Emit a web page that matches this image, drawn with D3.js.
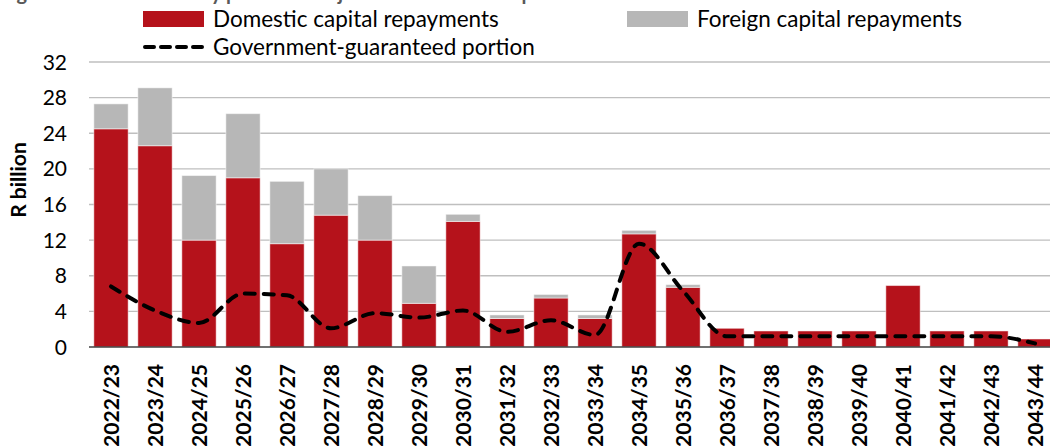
<!DOCTYPE html>
<html>
<head>
<meta charset="utf-8">
<script src="https://cdn.jsdelivr.net/npm/d3@7"></script>
<style>
  html, body { margin: 0; padding: 0; background: #fff; overflow: hidden; }
  svg { display: block; font-family: Lato, "Open Sans", sans-serif; }
</style>
</head>
<body>
<svg id="chart" width="1050" height="446"></svg>
<script>
// Chart data (R billion)
const years = ["2022/23", "2023/24", "2024/25", "2025/26", "2026/27", "2027/28",
  "2028/29", "2029/30", "2030/31", "2031/32", "2032/33", "2033/34", "2034/35",
  "2035/36", "2036/37", "2037/38", "2038/39", "2039/40", "2040/41", "2041/42",
  "2042/43", "2043/44"];
const domestic = [24.5, 22.6, 12.0, 19.0, 11.6, 14.8, 12.0, 4.9, 14.1, 3.2, 5.5,
  3.2, 12.7, 6.7, 2.1, 1.8, 1.8, 1.8, 6.9, 1.8, 1.8, 0.9];
const foreign = [2.8, 6.5, 7.25, 7.2, 7.0, 5.2, 5.0, 4.2, 0.8, 0.4, 0.4, 0.4,
  0.4, 0.3, 0, 0, 0, 0, 0, 0, 0, 0];
const guaranteed = [6.8, 4.1, 2.7, 6.0, 5.8, 2.1, 3.8, 3.3, 4.1, 1.7, 3.0, 1.35,
  11.6, 6.3, 1.2, 1.2, 1.2, 1.2, 1.2, 1.2, 1.2, 0.4];
const yTicks = [0, 4, 8, 12, 16, 20, 24, 28, 32];

const title = "Figure 6.6 Debt-maturity profile of major state-owned companies";
const legendItems = [
  { label: "Domestic capital repayments", type: "rect", color: "#B5121B" },
  { label: "Foreign capital repayments", type: "rect", color: "#B7B7B7" },
  { label: "Government-guaranteed portion", type: "line", color: "#000" },
];

const RED = "#B5121B";
const GREY = "#B7B7B7";

const svg = d3.select("#chart");

// plot area runs past the right edge, like the cropped original
const x = d3.scaleBand().domain(years).range([89, 1057]).paddingInner(0.22).paddingOuter(0.11);
const y = d3.scaleLinear().domain([0, 32]).range([347, 62]);

// cut-off title at the very top
svg.append("text")
  .attr("x", 0)
  .attr("y", 0)
  .attr("fill", "#595959")
  .attr("font-weight", "bold")
  .attr("font-size", 20)
  .text(title);

// gridlines
svg.append("g")
  .selectAll("line")
  .data(yTicks.filter(d => d > 0))
  .join("line")
  .attr("x1", 89)
  .attr("x2", 1050)
  .attr("y1", d => y(d))
  .attr("y2", d => y(d))
  .attr("stroke", "#BFBFBF")
  .attr("stroke-width", 1.4);

// y tick labels
svg.append("g")
  .selectAll("text")
  .data(yTicks)
  .join("text")
  .attr("x", 67)
  .attr("y", d => y(d))
  .attr("dy", "0.36em")
  .attr("text-anchor", "end")
  .attr("font-size", 21)
  .attr("fill", "#000")
  .text(d => d);

svg.append("text")
  .attr("transform", "translate(26,180) rotate(-90)")
  .attr("text-anchor", "middle")
  .attr("font-weight", "bold")
  .attr("font-size", 21)
  .text("R billion");

// stacked bars
const rows = years.map((yr, i) => ({ yr, dom: domestic[i], frn: foreign[i], gov: guaranteed[i] }));

const bars = svg.append("g");
bars.selectAll("rect.dom")
  .data(rows)
  .join("rect")
  .attr("class", "dom")
  .attr("x", d => x(d.yr))
  .attr("width", x.bandwidth())
  .attr("y", d => y(d.dom))
  .attr("height", d => y(0) - y(d.dom))
  .attr("fill", RED)
  .attr("stroke", "#fff")
  .attr("stroke-opacity", 0.5)
  .attr("stroke-width", 1);

bars.selectAll("rect.frn")
  .data(rows.filter(d => d.frn > 0))
  .join("rect")
  .attr("class", "frn")
  .attr("x", d => x(d.yr))
  .attr("width", x.bandwidth())
  .attr("y", d => y(d.dom + d.frn))
  .attr("height", d => y(d.dom) - y(d.dom + d.frn))
  .attr("fill", GREY)
  .attr("stroke", "#fff")
  .attr("stroke-opacity", 0.5)
  .attr("stroke-width", 1);

// baseline
svg.append("line")
  .attr("x1", 89)
  .attr("x2", 1050)
  .attr("y1", y(0))
  .attr("y2", y(0))
  .attr("stroke", "#404040")
  .attr("stroke-width", 1.6);

// guaranteed portion, smoothed dashed line
const line = d3.line()
  .x(d => x(d.yr) + x.bandwidth() / 2)
  .y(d => y(d.gov))
  .curve(d3.curveMonotoneX);

svg.append("path")
  .datum(rows)
  .attr("d", line)
  .attr("fill", "none")
  .attr("stroke", "#000")
  .attr("stroke-width", 4)
  .attr("stroke-dasharray", "10,9")
  .attr("stroke-linecap", "round");

// x labels, rotated
svg.append("g")
  .selectAll("text")
  .data(years)
  .join("text")
  .attr("transform", d => `translate(${x(d) + x.bandwidth() / 2},364) rotate(-90)`)
  .attr("dy", "0.36em")
  .attr("text-anchor", "end")
  .attr("font-weight", "bold")
  .attr("font-size", 21)
  .text(d => d);

// legend
const legendPos = [[143, 19], [627, 19], [143, 47]];
const lg = svg.append("g")
  .selectAll("g")
  .data(legendItems)
  .join("g")
  .attr("transform", (d, i) => `translate(${legendPos[i][0]},${legendPos[i][1]})`);

lg.filter(d => d.type === "rect")
  .append("rect")
  .attr("x", 0)
  .attr("y", -8)
  .attr("width", 61)
  .attr("height", 16)
  .attr("fill", d => d.color);

lg.filter(d => d.type === "line")
  .append("line")
  .attr("x1", 2)
  .attr("x2", 60)
  .attr("stroke", d => d.color)
  .attr("stroke-width", 4)
  .attr("stroke-dasharray", "9,7")
  .attr("stroke-linecap", "round");

lg.append("text")
  .attr("x", 70)
  .attr("dy", "0.35em")
  .attr("font-size", 22.5)
  .text(d => d.label);
</script>
</body>
</html>
